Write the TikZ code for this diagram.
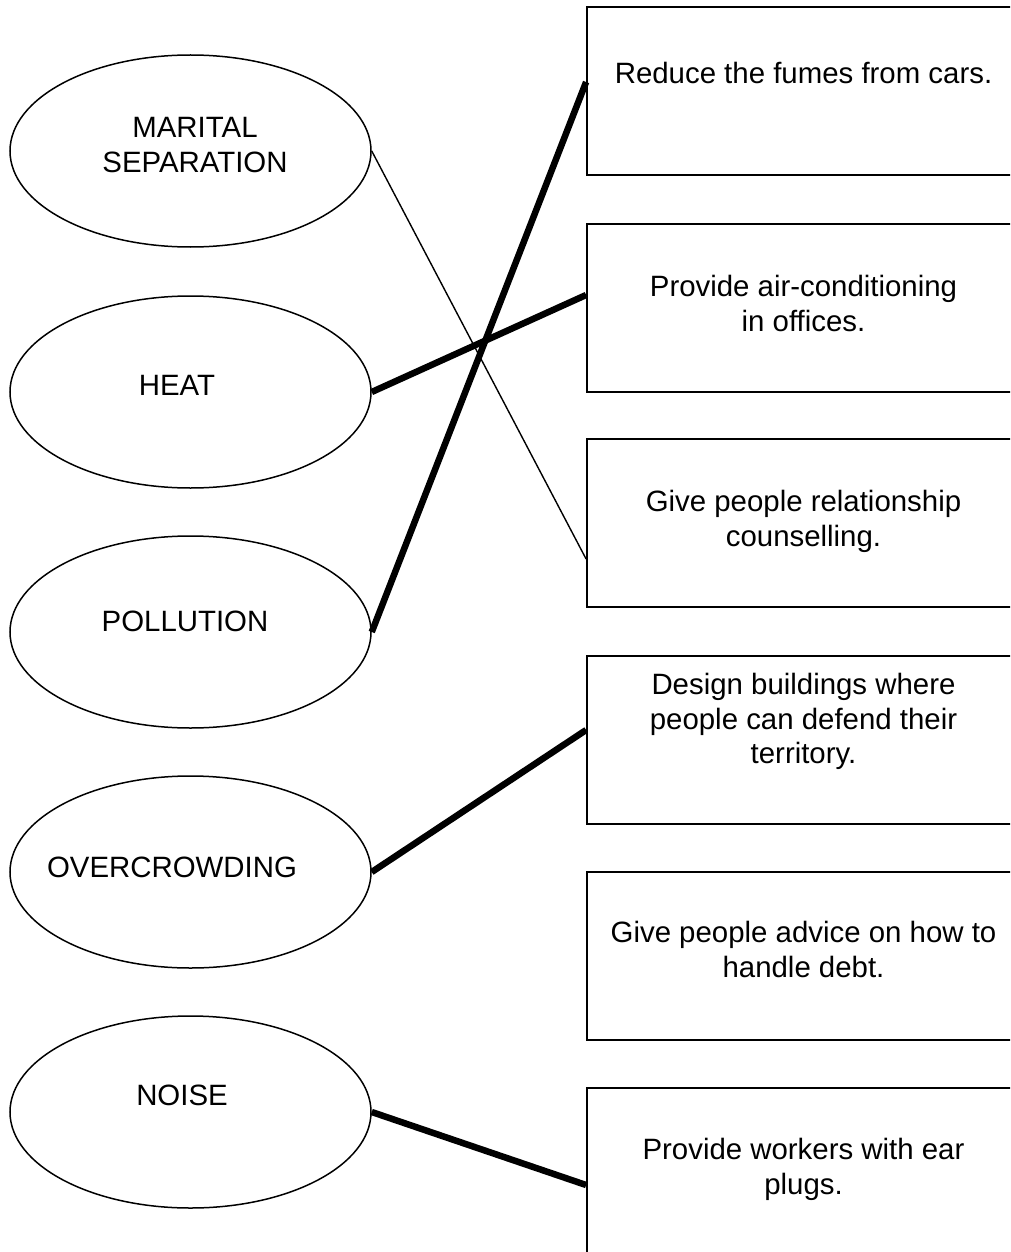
\documentclass[tikz,border=0pt]{standalone}
\usepackage{fontspec}
\setmainfont{Liberation Sans}
\usetikzlibrary{shapes.geometric,calc}
\begin{document}
\begin{tikzpicture}[x=1pt,y=-1pt,
  ell/.style={draw, ellipse, line width=1.5pt, minimum width=361pt, minimum height=192pt, inner sep=0pt},
  box/.style={draw, rectangle, line width=1.8pt, minimum width=433pt, minimum height=168pt, inner sep=0pt},
  txt/.style={font=\fontsize{29.4}{34.5}\selectfont, align=center, inner sep=0pt},
  boxtxt/.style={txt, anchor=north},
  thinlink/.style={line width=1.4pt},
  thicklink/.style={line width=6.5pt}]
\clip (0,0) rectangle (1010,1252);
\fill[white] (0,0) rectangle (1010,1252);
% ellipses
\node[ell] (e1) at (190.5,151) {};
\node[ell] (e2) at (190.5,392) {};
\node[ell] (e3) at (190.5,632) {};
\node[ell] (e4) at (190.5,872) {};
\node[ell] (e5) at (190.5,1112) {};
\node[txt] (l1) at (195,145) {MARITAL\\SEPARATION};
\node[txt] (l2) at (177,385) {HEAT};
\node[txt] (l3) at (185,621) {POLLUTION};
\node[txt] (l4) at (172,867) {OVERCROWDING};
\node[txt] (l5) at (182,1095) {NOISE};
% boxes
\node[box] (b1) at (803.5,91) {};
\node[box] (b2) at (803.5,308) {};
\node[box] (b3) at (803.5,523) {};
\node[box] (b4) at (803.5,740) {};
\node[box] (b5) at (803.5,956) {};
\node[box] (b6) at (803.5,1172) {};
\node[boxtxt] (t1) at ($(b1.north)+(0,56)$) {Reduce the fumes from cars.};
\node[boxtxt] (t2) at ($(b2.north)+(0,52)$) {Provide air-conditioning\\in offices.};
\node[boxtxt] (t3) at ($(b3.north)+(0,52)$) {Give people relationship\\counselling.};
\node[boxtxt] (t4) at ($(b4.north)+(0,18)$) {Design buildings where\\people can defend their\\territory.};
\node[boxtxt] (t5) at ($(b5.north)+(0,50)$) {Give people advice on how to\\handle debt.};
\node[boxtxt] (t6) at ($(b6.north)+(0,51)$) {Provide workers with ear\\plugs.};
% connectors
\draw[thinlink] (e1.east) -- ([yshift=-36pt]b3.west);
\draw[thicklink] (e2.east) -- ([yshift=13pt]b2.west);
\draw[thicklink] (e3.east) -- ([yshift=9pt]b1.west);
\draw[thicklink] (e4.east) -- ([yshift=10pt]b4.west);
\draw[thicklink] (e5.east) -- ([yshift=-13pt]b6.west);
\end{tikzpicture}
\end{document}
